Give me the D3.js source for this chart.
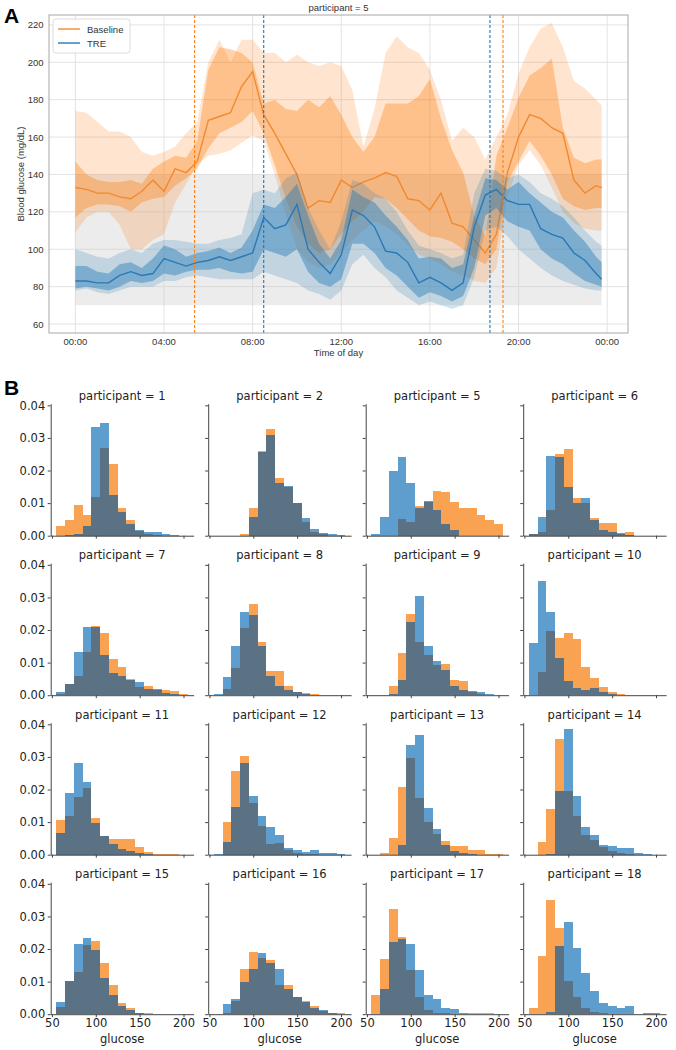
<!DOCTYPE html>
<html><head><meta charset="utf-8">
<script src="https://cdn.jsdelivr.net/npm/d3@7"></script>
<style>body{margin:0;background:#fff}</style>
</head><body><svg id="c" width="676" height="1050"></svg>
<script>
// ---------- Panel A data (participant 5, hours of day) ----------
const hours = [0,0.5,1,1.5,2,2.5,3,3.5, 4,4.5,5,5.5,6,6.5,7,7.5, 8,8.5,9,9.5,10,10.5,11,11.5,
  12,12.5,13,13.5,14,14.5,15,15.5, 16,16.5,17,17.5,18,18.5,19,19.5, 20,20.5,21,21.5,22,22.5,23,23.5, 23.75];
const baselineMean = [133,132,130,130,128,127,131,137, 131,143,141,147,169,171,173,187,
  195,172,162,151,140,122,126,125, 137,133,136,138,141,139,127,126, 121,130,114,112,105,98,108,141,
  160,172,170,165,162,137,130,134, 133];
const baselineInnerHigh = [147,140,137,136,136,137,135,143, 147,150,149,158,196,208,207,205,
  200,178,180,175,174,180,176,182, 172,160,152,160,178,178,178,182, 191,170,153,141,118,107,150,165,
  181,193,197,202,165,149,146,148, 148];
const baselineInnerLow = [117,122,124,124,123,120,125,127, 128,134,138,143,154,162,165,168,
  174,162,145,127,112,103,98,100, 108,115,120,128,127,122,116,110, 107,106,104,100,95,92,100,136,
  147,158,150,140,127,123,121,122, 122];
const baselineOuterHigh = [174,173,168,163,163,160,152,150, 152,155,162,168,200,212,200,212,
  212,205,205,200,204,200,198,200, 198,185,155,175,205,214,208,205, 196,180,158,165,160,148,160,172,
  194,208,218,221,208,190,186,180, 177];
const baselineOuterLow = [109,117,120,120,113,100,100,105, 108,125,135,145,150,151,153,157,
  161,158,140,118,100,93,90,92, 98,105,110,115,112,108,102,97, 95,92,88,86,83,82,90,128,
  145,153,145,133,120,114,111,110, 110];
const treMean = [83,83,82,82,86,88,86,87, 95,93,91,93,94,96,94,96,
  98,117,111,113,124,100,93,87, 97,121,118,112,99,98,93,82, 85,82,78,82,112,129,132,126,
  124,124,111,108,106,98,94,87, 84];
const treInnerHigh = [91,91,88,87,92,93,90,95, 102,100,96,98,99,101,98,101,
  110,124,122,128,135,118,103,95, 105,132,128,125,118,112,105,95, 96,95,90,92,118,138,137,132,
  136,130,125,120,117,110,104,96, 93];
const treInnerLow = [79,80,79,78,80,83,82,83, 87,86,88,89,89,90,88,87,
  88,100,98,96,100,88,82,80, 84,103,103,98,90,86,80,74, 77,75,72,75,90,118,122,115,
  112,110,100,95,92,87,83,81, 80];
const treOuterHigh = [100,98,96,95,98,100,98,103, 105,105,104,103,103,105,106,108,
  130,132,130,138,141,122,110,100, 115,137,135,130,127,120,110,102, 100,98,95,97,130,143,142,138,
  140,136,130,127,123,117,110,104, 102];
const treOuterLow = [78,79,77,76,78,80,80,80, 83,83,85,86,85,84,84,84,
  84,88,86,84,82,78,76,73, 78,92,97,90,85,78,74,70, 72,70,68,70,85,110,112,107,
  100,95,90,86,83,81,79,78, 78];
const targetRange = [70, 140];
const baselineWindow = [5.38, 19.3];
const treWindow = [8.5, 18.71];
const timeTickHours = [0,4,8,12,16,20,24];
const timeTickLabels = ["00:00","04:00","08:00","12:00","16:00","20:00","00:00"];
const glucoseTicks = [60,80,100,120,140,160,180,200,220];
const seriesNames = ["Baseline","TRE"];

// ---------- Panel B data (density histograms) ----------
const participants = [1,2,5,6,7,8,9,10,11,12,13,14,15,16,17,18];
const binStarts = [55,65,75,85,95,105,115,125,135,145,155,165,175,185,195];
const binWidth = 10;
const baselineDensity = [
 [0.0030,0.0048,0.0094,0.0063,0.0119,0.0270,0.0221,0.0086,0.0048,0.0015,0.0005,0.0002,0,0,0],
 [0,0,0,0.0004,0.0086,0.026,0.0326,0.0176,0.015,0.0099,0.0043,0.0012,0.0005,0,0],
 [0,0,0,0.005,0.0043,0.0091,0.0104,0.0138,0.0134,0.0102,0.0086,0.0084,0.0065,0.0048,0.0036],
 [0.0004,0.0012,0.008,0.0252,0.0267,0.0116,0.0099,0.0053,0.004,0.004,0.0005,0.001,0,0,0],
 [0.0005,0.0034,0.0058,0.0133,0.0212,0.019,0.011,0.0087,0.0051,0.0026,0.0029,0.0015,0.0015,0.0012,0.0005],
 [0,0.002,0.0084,0.0205,0.028,0.0164,0.0074,0.0074,0.0029,0.001,0.0007,0.0003,0,0,0],
 [0,0,0.0029,0.0128,0.0249,0.0164,0.0123,0.0092,0.0097,0.0048,0.0044,0.001,0.0003,0,0],
 [0,0.0072,0.0197,0.0174,0.0192,0.0171,0.0085,0.0053,0.0024,0.001,0.0003,0,0,0,0],
 [0.0106,0.0119,0.0176,0.0206,0.0114,0.0057,0.0047,0.0047,0.0047,0.0024,0.0008,0.0003,0.0003,0.0002,0],
 [0,0.0101,0.0258,0.0302,0.0158,0.0088,0.0034,0.0036,0.0013,0.0005,0.0003,0.0002,0,0,0],
 [0,0.0005,0.0052,0.0209,0.0297,0.0175,0.0101,0.0065,0.0041,0.0026,0.0026,0.0015,0.0015,0.0003,0.0002],
 [0,0.0039,0.014,0.0354,0.0196,0.0118,0.006,0.0044,0.0024,0.001,0.0005,0.0003,0,0,0],
 [0.0021,0.0103,0.0131,0.0213,0.0225,0.0157,0.0089,0.0034,0.0018,0.0005,0.0003,0,0,0,0],
 [0,0.0005,0.004,0.0138,0.019,0.0172,0.0167,0.009,0.009,0.0054,0.0039,0.0026,0.0011,0.0004,0.0005],
 [0.0059,0.0169,0.0322,0.0238,0.0136,0.0054,0.0013,0.0005,0.0003,0.0002,0.0002,0.0005,0.0005,0.0003,0],
 [0.002,0.0179,0.0349,0.0264,0.0102,0.0054,0.0018,0.0008,0.0003,0,0,0,0,0,0]
];
const treDensity = [
 [0,0.0002,0.0004,0.0030,0.0334,0.0347,0.0124,0.0073,0.0035,0.0017,0.0012,0.0010,0.0005,0.0002,0],
 [0,0,0,0,0.0058,0.0258,0.031,0.0162,0.0151,0.0099,0.0055,0.0022,0.0009,0.0005,0.0002],
 [0.0004,0.0057,0.020,0.0242,0.0162,0.0084,0.0106,0.0079,0.0035,0.0017,0,0,0,0,0],
 [0.0004,0.0058,0.0244,0.024,0.0148,0.0099,0.0116,0.0048,0.0019,0.0012,0.0007,0.0003,0,0,0],
 [0.001,0.0035,0.0132,0.021,0.021,0.0122,0.0067,0.0058,0.0046,0.0039,0.002,0.002,0.0007,0.0003,0],
 [0.0003,0.0056,0.015,0.0256,0.0246,0.015,0.0058,0.0029,0.0017,0.001,0.0005,0.0002,0,0,0],
 [0,0,0.0003,0.0046,0.0226,0.0305,0.015,0.0106,0.0077,0.0029,0.0015,0.0012,0.001,0.0003,0],
 [0.0159,0.0349,0.0256,0.0113,0.0044,0.0021,0.0017,0.0021,0.001,0.0003,0,0,0,0,0],
 [0.0067,0.0189,0.0281,0.0222,0.0098,0.0057,0.0034,0.0019,0.0011,0.0005,0.0002,0,0,0,0],
 [0.0003,0.0039,0.0147,0.0281,0.018,0.0119,0.0084,0.006,0.0022,0.0015,0.0008,0.0013,0.0006,0.0006,0.0003],
 [0,0,0,0.0029,0.0336,0.0367,0.0142,0.008,0.0029,0.0011,0.0005,0.0002,0,0,0],
 [0,0,0.0002,0.0194,0.0387,0.018,0.0085,0.006,0.0029,0.0026,0.002,0.002,0.0005,0.0002,0],
 [0.0037,0.0101,0.0216,0.0233,0.0198,0.011,0.0059,0.0026,0.0013,0.0004,0.0002,0,0,0,0],
 [0.0002,0.0031,0.0047,0.01,0.0138,0.0187,0.0156,0.0138,0.0077,0.0054,0.0036,0.002,0.0013,0.0005,0.0002],
 [0,0.0077,0.022,0.023,0.0216,0.0136,0.0059,0.0047,0.0018,0.0015,0.0005,0.0002,0,0,0],
 [0,0,0.0008,0.021,0.0284,0.0203,0.0126,0.007,0.0034,0.0026,0.0019,0.0024,0,0.0005,0.0003]
];
const densityTicks = [0,0.01,0.02,0.03,0.04];
const glucoseHistTicks = [50,100,150,200];

// ---------- drawing ----------
const svg = d3.select('#c');
const ORANGE = '#ff7f0e', BLUE = '#1f77b4';
const fontA = "'Liberation Sans', Arial, sans-serif";
const fontB = "'DejaVu Sans', sans-serif";

// Panel A
const A = {l:49, r:628, t:15, b:333};
const xA = d3.scaleLinear().domain([-1.19, 24.94]).range([A.l, A.r]);
const yA = d3.scaleLinear().domain([55.2, 225.3]).range([A.b, A.t]);
const gA = svg.append('g');
gA.append('clipPath').attr('id','clipA').append('rect')
  .attr('x',A.l).attr('y',A.t).attr('width',A.r-A.l).attr('height',A.b-A.t);
gA.selectAll('.gy').data(glucoseTicks).enter().append('line')
  .attr('x1',A.l).attr('x2',A.r).attr('y1',d=>yA(d)).attr('y2',d=>yA(d))
  .attr('stroke','#e3e3e3').attr('stroke-width',1);
gA.selectAll('.gx').data(timeTickHours).enter().append('line')
  .attr('y1',A.t).attr('y2',A.b).attr('x1',d=>xA(d)).attr('x2',d=>xA(d))
  .attr('stroke','#e3e3e3').attr('stroke-width',1);
const plot = gA.append('g').attr('clip-path','url(#clipA)');
plot.append('path').datum(hours)
  .attr('d', d3.area().x(d=>xA(d)).y0(yA(targetRange[0])).y1(yA(targetRange[1])))
  .attr('fill','#c8c8c8').attr('fill-opacity',0.35);
function band(lo, hi, color, op){
  plot.append('path').datum(hours.map((h,i)=>[h,lo[i],hi[i]]))
    .attr('d', d3.area().x(d=>xA(d[0])).y0(d=>yA(d[1])).y1(d=>yA(d[2])))
    .attr('fill',color).attr('fill-opacity',op);
}
function line(vals, color){
  plot.append('path').datum(hours.map((h,i)=>[h,vals[i]]))
    .attr('d', d3.line().x(d=>xA(d[0])).y(d=>yA(d[1])))
    .attr('fill','none').attr('stroke',color).attr('stroke-width',1.4);
}
band(baselineOuterLow, baselineOuterHigh, ORANGE, 0.2);
band(baselineInnerLow, baselineInnerHigh, ORANGE, 0.35);
line(baselineMean, '#f08a30');
band(treOuterLow, treOuterHigh, BLUE, 0.2);
band(treInnerLow, treInnerHigh, BLUE, 0.42);
line(treMean, '#2a78b5');
function vline(h, color){
  plot.append('line').attr('x1',xA(h)).attr('x2',xA(h)).attr('y1',A.t).attr('y2',A.b)
    .attr('stroke',color).attr('stroke-width',1.1).attr('stroke-dasharray','3,2');
}
baselineWindow.forEach(h=>vline(h, ORANGE));
treWindow.forEach(h=>vline(h, BLUE));
gA.append('rect').attr('x',A.l).attr('y',A.t).attr('width',A.r-A.l).attr('height',A.b-A.t)
  .attr('fill','none').attr('stroke','#a8a8a8').attr('stroke-width',1);
gA.selectAll('.yt').data(glucoseTicks).enter().append('text')
  .attr('x',A.l-5.5).attr('y',d=>yA(d)+3.5).attr('text-anchor','end')
  .attr('font-family',fontA).attr('font-size',9.5).attr('fill','#333').text(d=>d);
gA.selectAll('.xt').data(timeTickHours).enter().append('text')
  .attr('x',d=>xA(d)).attr('y',A.b+12).attr('text-anchor','middle')
  .attr('font-family',fontA).attr('font-size',9.5).attr('fill','#333').text((d,i)=>timeTickLabels[i]);
gA.append('text').attr('x',(A.l+A.r)/2).attr('y',A.b+23).attr('text-anchor','middle')
  .attr('font-family',fontA).attr('font-size',9.5).attr('fill','#333').text('Time of day');
gA.append('text').attr('transform',`translate(24,${(A.t+A.b)/2}) rotate(-90)`).attr('text-anchor','middle')
  .attr('font-family',fontA).attr('font-size',9.5).attr('fill','#333').text('Blood glucose (mg/dL)');
gA.append('text').attr('x',(A.l+A.r)/2).attr('y',11).attr('text-anchor','middle')
  .attr('font-family',fontA).attr('font-size',9.5).attr('fill','#333').text('participant = 5');
const lg = gA.append('g');
lg.append('rect').attr('x',53).attr('y',19).attr('width',77).attr('height',34).attr('rx',3)
  .attr('fill','#fff').attr('fill-opacity',0.85).attr('stroke','#dcdcdc');
seriesNames.forEach((n,i)=>{
  const y = 29 + i*14;
  lg.append('line').attr('x1',58).attr('x2',80).attr('y1',y).attr('y2',y)
    .attr('stroke', i===0 ? '#f08a30' : '#2a78b5').attr('stroke-width',1.4);
  lg.append('text').attr('x',87).attr('y',y+3.5).attr('font-family',fontA).attr('font-size',9.5)
    .attr('fill','#333').text(n);
});
svg.append('text').attr('x',4).attr('y',23).attr('font-family',fontA).attr('font-weight','bold')
  .attr('font-size',21).text('A');
svg.append('text').attr('x',4).attr('y',395).attr('font-family',fontA).attr('font-weight','bold')
  .attr('font-size',21).text('B');

// Panel B
const W = 142.9, H = 132;
const xH = d3.scaleLinear().domain([48.6, 211.5]).range([0, W]);
const yH = d3.scaleLinear().domain([0, 0.0405]).range([H, 0]);
const C_OR = '#f9a352', C_BL = '#5e9ecf', C_OV = '#5b7285';
participants.forEach((p, k)=>{
  const r = Math.floor(k/4), c = k%4;
  const left = 50.7 + c*157.5, bottom = 535.7 + r*159.5;
  const g = svg.append('g').attr('transform',`translate(${left},${bottom-H})`);
  const o = baselineDensity[k], b = treDensity[k];
  const bars = binStarts.map((s,i)=>({s, o:o[i], b:b[i]}));
  const bx = d=>xH(d.s), bw = d=>xH(d.s+binWidth)-xH(d.s);
  g.selectAll('.o').data(bars).enter().append('rect')
    .attr('x',bx).attr('width',bw)
    .attr('y',d=>yH(d.o)).attr('height',d=>H-yH(d.o)).attr('fill',C_OR).attr('shape-rendering','crispEdges');
  g.selectAll('.b').data(bars).enter().append('rect')
    .attr('x',bx).attr('width',bw)
    .attr('y',d=>yH(d.b)).attr('height',d=>H-yH(d.b)).attr('fill',C_BL).attr('shape-rendering','crispEdges');
  g.selectAll('.v').data(bars).enter().append('rect')
    .attr('x',bx).attr('width',bw)
    .attr('y',d=>yH(Math.min(d.o,d.b))).attr('height',d=>H-yH(Math.min(d.o,d.b))).attr('fill',C_OV).attr('shape-rendering','crispEdges');
  const ya = d3.axisLeft(yH).tickValues(densityTicks).tickSize(3).tickPadding(2.5).tickSizeOuter(0)
    .tickFormat(c===0 ? d3.format('.2f') : ()=> '');
  const xa = d3.axisBottom(xH).tickValues(glucoseHistTicks).tickSize(3).tickPadding(2).tickSizeOuter(0)
    .tickFormat(r===3 ? d3.format('d') : ()=> '');
  const gy = g.append('g').call(ya);
  const gx = g.append('g').attr('transform',`translate(0,${H})`).call(xa);
  [gy,gx].forEach(ax=>{
    ax.select('.domain').attr('stroke','#444').attr('stroke-width',1);
    ax.selectAll('.tick line').attr('stroke','#444');
    ax.selectAll('text').attr('font-family',fontB).attr('font-size',11.5).attr('fill','#222');
  });
  g.append('text').attr('x',W/2).attr('y',-4).attr('text-anchor','middle')
    .attr('font-family',fontB).attr('font-size',11.5).attr('fill','#222').text(`participant = ${p}`);
  if (r===3) g.append('text').attr('x',W/2).attr('y',H+29).attr('text-anchor','middle')
    .attr('font-family',fontB).attr('font-size',11.5).attr('fill','#222').text('glucose');
});
</script></body></html>
